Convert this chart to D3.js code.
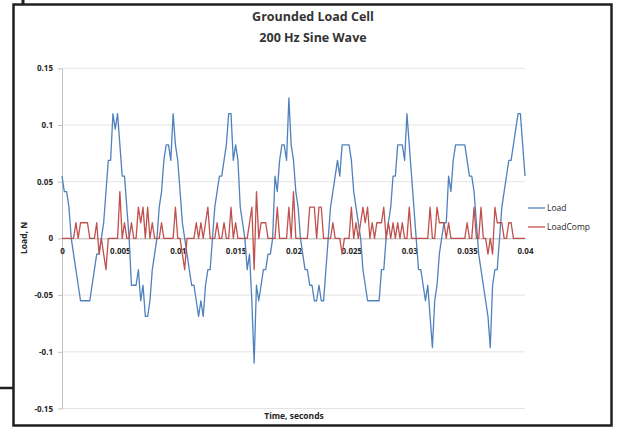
<!DOCTYPE html>
<html>
<head>
<meta charset="utf-8">
<script src="https://cdn.jsdelivr.net/npm/d3@7"></script>
<style>
  body { margin: 0; background: #fff; }
  text { font-family: "Open Sans", sans-serif; }
</style>
</head>
<body>
<div id="chart"></div>
<script>
// samples are 0.0002 s apart, 0 .. 0.04 s
const sampleStep = 0.0002;

// Load, N (blue)
const load = [
  0.055, 0.0413, 0.0413, 0.0275, 0, -0.0138, -0.0275, -0.0413, -0.055, -0.055, -0.055, -0.055, -0.055, -0.0413, -0.0275, -0.0138, -0.0138, 0, 0.0138, 0.0413, 0.0688, 0.0688, 0.11, 0.0963, 0.11,
  0.0825, 0.055, 0.055, 0.0275, 0, -0.0413, -0.0413, -0.0413, -0.0275, -0.055, -0.0413, -0.0688, -0.0688, -0.055, -0.0275, -0.0138, 0, 0.0275, 0.0413, 0.0688, 0.0825, 0.0825, 0.0688, 0.11, 0.0825,
  0.0688, 0.0413, 0.0138, 0, -0.0138, -0.0275, -0.0413, -0.0413, -0.055, -0.0688, -0.055, -0.0688, -0.0413, -0.0275, -0.0275, 0, 0.0275, 0.0413, 0.055, 0.055, 0.0688, 0.0825, 0.11, 0.11, 0.0688,
  0.0825, 0.0688, 0.0275, 0.0138, 0, -0.0275, -0.0138, -0.055, -0.11, -0.0413, -0.055, -0.0413, -0.0275, -0.0275, -0.0138, -0.0138, 0, 0.055, 0.0413, 0.0688, 0.0825, 0.0825, 0.0688, 0.1238, 0.0825,
  0.0688, 0.0413, 0.0275, 0, -0.0138, -0.0275, -0.0275, -0.0413, -0.0413, -0.055, -0.055, -0.0413, -0.055, -0.055, -0.0275, 0, 0.0275, 0.0413, 0.055, 0.0688, 0.055, 0.0825, 0.0825, 0.0825, 0.0825,
  0.0688, 0.0413, 0.0275, 0.0138, 0, -0.0275, -0.0413, -0.055, -0.055, -0.055, -0.055, -0.055, -0.055, -0.0275, -0.0275, 0, 0.0138, 0.0275, 0.055, 0.055, 0.0825, 0.0825, 0.0825, 0.0688, 0.11,
  0.0825, 0.055, 0.0275, 0, -0.0275, -0.0275, -0.0413, -0.055, -0.0413, -0.0688, -0.0963, -0.055, -0.0413, -0.0138, 0, 0.0138, 0.0138, 0.055, 0.0413, 0.0688, 0.0825, 0.0825, 0.0825, 0.0825, 0.0825,
  0.0688, 0.055, 0.055, 0.0413, 0.0138, -0.0138, -0.0275, -0.0413, -0.055, -0.0688, -0.0963, -0.0413, -0.0275, -0.0275, 0, 0.0275, 0.0413, 0.055, 0.0688, 0.0688, 0.0825, 0.0963, 0.11, 0.11, 0.0825,
  0.055
];

// LoadComp, N (red)
const loadComp = [
  0, 0, 0, 0, 0, 0, 0.0138, 0, 0.0138, 0.0138, 0.0138, 0.0138, 0, 0, 0, 0.0138, -0.0138, 0, -0.0138, -0.0275, 0, 0, 0, 0, 0,
  0.0413, 0, 0.0138, 0, 0, 0.0138, 0, 0, 0.0275, 0.0138, 0.0275, 0, 0.0275, 0, 0.0138, 0, 0, 0, 0.0138, 0, 0, 0, 0, 0, 0.0275,
  0, 0, -0.0138, -0.0275, 0, 0, 0, 0, 0.0138, 0, 0.0138, 0, 0.0138, 0.0275, 0, 0, 0, 0.0138, 0, 0, 0.0138, 0, 0, 0.0275, 0,
  0.0138, 0, 0, 0, 0, 0, 0.0138, 0.0275, -0.0275, 0.0413, 0, 0.0138, 0.0138, 0.0138, 0, 0, 0, 0, 0.0275, 0, 0, 0, 0, 0.0275, 0,
  0.0413, 0, 0, 0, 0, 0, 0, 0.0275, 0.0275, 0.0275, 0, 0.0275, 0.0275, 0, 0, 0, 0, 0.0138, 0, 0, 0, -0.0138, 0, 0, 0,
  0.0275, 0, 0.0138, 0, 0.0138, 0.0275, 0.0138, 0.0275, 0, 0.0138, 0, 0.0138, 0.0138, 0.0138, 0.0275, 0, 0.0138, 0, 0.0138, 0, 0.0138, 0, 0.0138, 0, 0,
  0.0275, 0, 0, 0, 0, 0, 0, 0, 0, 0.0275, 0, 0, 0.0275, 0.0138, 0.0138, 0.0138, 0, 0.0138, 0, 0, 0, 0, 0, 0, 0,
  0.0138, 0, 0, 0.0275, 0, 0, 0.0275, 0, 0, -0.0138, 0, -0.0138, 0.0275, 0.0138, 0.0138, 0.0138, 0, 0, 0.0138, 0.0138, 0, 0, 0, 0, 0,
  0
];

const seriesNames = ["Load", "LoadComp"];
const seriesColors = ["#4f81bd", "#c0504d"];

const yTicks = [-0.15, -0.1, -0.05, 0, 0.05, 0.1, 0.15];
const yTickLabels = ["-0.15", "-0.1", "-0.05", "0", "0.05", "0.1", "0.15"];
const xTicks = [0, 0.005, 0.01, 0.015, 0.02, 0.025, 0.03, 0.035, 0.04];
const xTickLabels = ["0", "0.005", "0.01", "0.015", "0.02", "0.025", "0.03", "0.035", "0.04"];

const W = 618, H = 429;
const plot = {left: 62, right: 525, top: 68.3, bottom: 408.5};

const svg = d3.select("#chart")
  .append("svg")
  .attr("width", W)
  .attr("height", H);

svg.append("rect").attr("width", W).attr("height", H).attr("fill", "#fff");

const x = d3.scaleLinear().domain([0, 0.04]).range([plot.left, plot.right]);
const y = d3.scaleLinear().domain([-0.15, 0.15]).range([plot.bottom, plot.top]);

// horizontal gridlines
svg.append("g")
  .selectAll("line")
  .data(yTicks)
  .join("line")
  .attr("x1", plot.left)
  .attr("x2", plot.right)
  .attr("y1", d => y(d))
  .attr("y2", d => y(d))
  .attr("stroke", "#dcdcdc")
  .attr("stroke-width", 0.8);

// y axis
const yAxis = svg.append("g")
  .attr("transform", `translate(${plot.left},0)`)
  .call(d3.axisLeft(y)
    .tickValues(yTicks)
    .tickFormat((d, i) => yTickLabels[i])
    .tickSize(4)
    .tickSizeOuter(0)
    .tickPadding(5));
yAxis.select(".domain").attr("stroke", "#bfbfbf");
yAxis.selectAll(".tick line").attr("stroke", "#bfbfbf");
yAxis.selectAll("text")
  .style("font-size", "8px")
  .style("font-weight", "bold")
  .style("font-family", "'Open Sans', sans-serif")
  .attr("fill", "#262626");

// x axis sits on the zero line
const xAxis = svg.append("g")
  .attr("transform", `translate(0,${y(0)})`)
  .call(d3.axisBottom(x)
    .tickValues(xTicks)
    .tickFormat((d, i) => xTickLabels[i])
    .tickSize(0)
    .tickSizeOuter(0)
    .tickPadding(10));
xAxis.select(".domain").attr("stroke", "#bfbfbf");
xAxis.selectAll("text")
  .style("font-size", "8px")
  .style("font-weight", "bold")
  .style("font-family", "'Open Sans', sans-serif")
  .attr("fill", "#262626");

// series
const line = d3.line()
  .x((d, i) => x(i * sampleStep))
  .y(d => y(d));

[load, loadComp].forEach((s, k) => {
  svg.append("path")
    .datum(s)
    .attr("fill", "none")
    .attr("stroke", seriesColors[k])
    .attr("stroke-width", 1.3)
    .attr("stroke-linejoin", "round")
    .attr("d", line);
});

// legend
const legend = svg.append("g")
  .selectAll("g")
  .data(seriesNames)
  .join("g")
  .attr("transform", (d, i) => `translate(528,${208 + i * 19})`);
legend.append("line")
  .attr("x1", 0).attr("x2", 17)
  .attr("stroke", (d, i) => seriesColors[i])
  .attr("stroke-width", 1.3);
legend.append("text")
  .attr("x", 19)
  .attr("dy", "0.35em")
  .style("font-size", "8.5px")
  .attr("fill", "#262626")
  .text(d => d);

// titles
svg.append("text")
  .attr("x", 313).attr("y", 21)
  .attr("text-anchor", "middle")
  .style("font-size", "12.5px").style("font-weight", "bold")
  .attr("fill", "#333")
  .text("Grounded Load Cell");
svg.append("text")
  .attr("x", 313).attr("y", 42)
  .attr("text-anchor", "middle")
  .style("font-size", "12.5px").style("font-weight", "bold")
  .attr("fill", "#333")
  .text("200 Hz Sine Wave");

svg.append("text")
  .attr("x", 294).attr("y", 419)
  .attr("text-anchor", "middle")
  .style("font-size", "8.5px").style("font-weight", "bold")
  .attr("fill", "#262626")
  .text("Time, seconds");

svg.append("text")
  .attr("transform", "translate(27,238) rotate(-90)")
  .attr("text-anchor", "middle")
  .style("font-size", "8.5px").style("font-weight", "bold")
  .attr("fill", "#262626")
  .text("Load, N");

// outer frame and the scan edge marks round it
svg.append("rect")
  .attr("x", 13.5).attr("y", 4.5)
  .attr("width", 598).attr("height", 421)
  .attr("fill", "none")
  .attr("stroke", "#231f20")
  .attr("stroke-width", 2.5);
svg.append("line")
  .attr("x1", 23).attr("x2", 23).attr("y1", 0).attr("y2", 4)
  .attr("stroke", "#231f20").attr("stroke-width", 3);
svg.append("line")
  .attr("x1", 0).attr("x2", 13).attr("y1", 388).attr("y2", 388)
  .attr("stroke", "#231f20").attr("stroke-width", 2.5);
</script>
</body>
</html>
